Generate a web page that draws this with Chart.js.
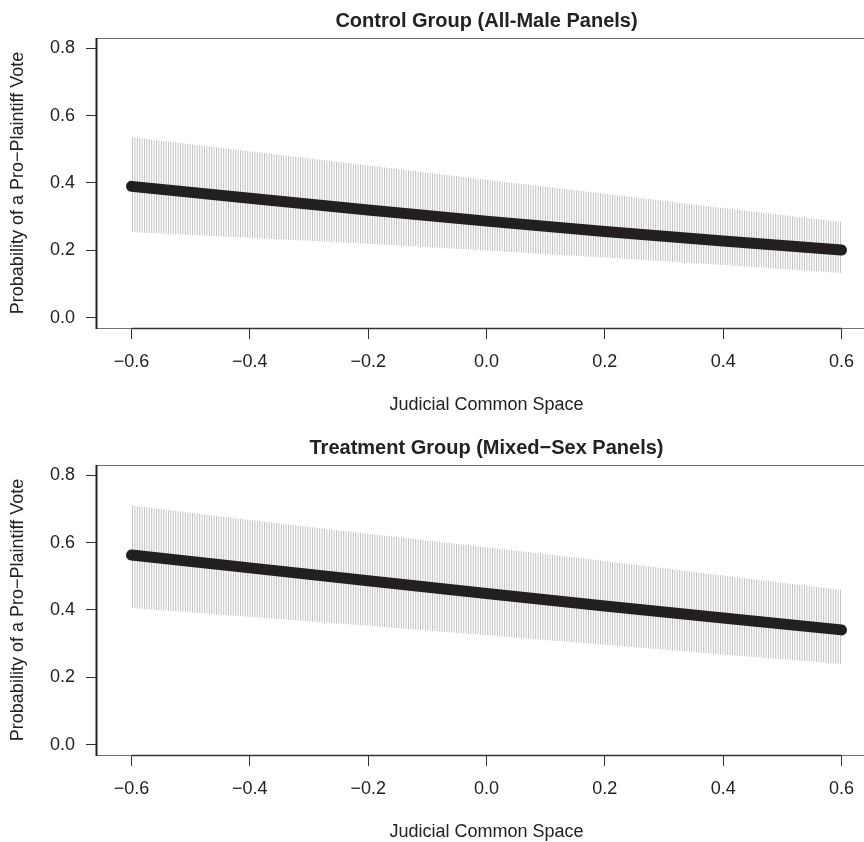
<!DOCTYPE html>
<html>
<head>
<meta charset="utf-8">
<script src="https://cdn.jsdelivr.net/npm/chart.js@4/dist/chart.umd.min.js"></script>
<style>
  html, body { margin: 0; padding: 0; background: #fff; overflow: hidden; }
  .panel { position: absolute; left: 0; width: 880px; height: 427px; }
</style>
</head>
<body>
<div class="panel" style="top:0"><canvas id="controlChart"></canvas></div>
<div class="panel" style="top:427px"><canvas id="treatmentChart"></canvas></div>
<script>
// Tick labels
const xTicks = [-0.6, -0.4, -0.2, 0, 0.2, 0.4, 0.6];
const yTicks = [0, 0.2, 0.4, 0.6, 0.8];

// Judicial common space scores where values were read
const xValues = [-0.6, -0.4, -0.2, 0, 0.2, 0.4, 0.6];

// Control group (all-male panels)
const controlFit   = [0.390, 0.355, 0.320, 0.287, 0.256, 0.228, 0.201];
const controlUpper = [0.536, 0.494, 0.452, 0.410, 0.368, 0.326, 0.284];
const controlLower = [0.255, 0.238, 0.220, 0.200, 0.179, 0.157, 0.133];

// Treatment group (mixed-sex panels)
const treatmentFit   = [0.563, 0.525, 0.487, 0.449, 0.412, 0.376, 0.341];
const treatmentUpper = [0.710, 0.667, 0.626, 0.586, 0.545, 0.502, 0.459];
const treatmentLower = [0.406, 0.380, 0.353, 0.325, 0.297, 0.268, 0.240];

const FONT = '"Liberation Sans", Arial, Helvetica, sans-serif';
const TEXT = '#222';

// vertical hatch used for the confidence band
function makeStripes() {
  const pc = document.createElement('canvas');
  pc.width = 12;
  pc.height = 4;
  const c = pc.getContext('2d');
  c.fillStyle = '#c2c2c2';
  for (let i = 0; i < 5; i++) c.fillRect(i * 2.4, 0, 1, 4);
  return c.createPattern(pc, 'repeat');
}
const stripes = makeStripes();

const toPoints = (ys) => ys.map((y, i) => ({ x: xValues[i], y: y }));

// box around the plot region, R style
const boxPlugin = {
  id: 'box',
  afterDraw(chart) {
    const { ctx, chartArea: a, scales } = chart;
    ctx.save();
    ctx.strokeStyle = '#707070';
    ctx.lineWidth = 1;
    ctx.strokeRect(a.left + 0.5, a.top + 0.5, a.right - a.left, a.bottom - a.top);
    ctx.strokeStyle = '#222';
    ctx.lineWidth = 2;
    ctx.beginPath();
    ctx.moveTo(a.left + 0.5, a.top);
    ctx.lineTo(a.left + 0.5, a.bottom + 1);
    ctx.stroke();
    ctx.strokeStyle = '#333';
    ctx.lineWidth = 1.5;
    ctx.beginPath();
    ctx.moveTo(scales.x.getPixelForValue(xTicks[0]), a.bottom + 0.5);
    ctx.lineTo(scales.x.getPixelForValue(xTicks[xTicks.length - 1]), a.bottom + 0.5);
    ctx.stroke();
    ctx.restore();
  }
};

function makeChart(id, title, fit, upper, lower) {
  return new Chart(document.getElementById(id), {
    type: 'line',
    data: {
      datasets: [
        {
          data: toPoints(fit),
          borderColor: '#231f20',
          borderWidth: 11,
          borderCapStyle: 'round',
          borderJoinStyle: 'round',
          pointRadius: 0,
          fill: false,
          clip: false
        },
        {
          data: toPoints(upper),
          borderWidth: 0,
          borderColor: 'rgba(0,0,0,0)',
          backgroundColor: stripes,
          pointRadius: 0,
          fill: '+1'
        },
        {
          data: toPoints(lower),
          borderWidth: 0,
          borderColor: 'rgba(0,0,0,0)',
          pointRadius: 0,
          fill: false
        }
      ]
    },
    options: {
      responsive: true,
      maintainAspectRatio: false,
      animation: false,
      layout: { padding: { left: 0, right: 3, top: 0, bottom: 0 } },
      plugins: {
        legend: { display: false },
        tooltip: { enabled: false },
        title: {
          display: true,
          text: title,
          fullSize: false,
          color: TEXT,
          font: { family: FONT, size: 20, weight: 'bold' },
          padding: { top: 9, bottom: 5 }
        }
      },
      scales: {
        x: {
          type: 'linear',
          min: -0.66,
          max: 0.66,
          afterBuildTicks: (s) => { s.ticks = xTicks.map(v => ({ value: v })); },
          afterFit: (s) => { s.height = 99; },
          border: { display: false },
          grid: { drawOnChartArea: false, drawTicks: true, tickLength: 11, tickColor: '#333', lineWidth: 1 },
          ticks: {
            color: TEXT,
            padding: 12,
            font: { family: FONT, size: 18 },
            callback: (v) => v.toFixed(1).replace('-', '\u2212')
          },
          title: {
            display: true,
            text: 'Judicial Common Space',
            color: TEXT,
            font: { family: FONT, size: 18 },
            padding: { top: 0, bottom: 11 }
          }
        },
        y: {
          type: 'linear',
          min: -0.03,
          max: 0.83,
          afterBuildTicks: (s) => { s.ticks = yTicks.map(v => ({ value: v })); },
          afterFit: (s) => { s.width = 96; },
          border: { display: false },
          grid: { drawOnChartArea: false, drawTicks: true, tickLength: 10, tickColor: '#333', lineWidth: 1 },
          ticks: {
            color: TEXT,
            padding: 11,
            font: { family: FONT, size: 18 },
            callback: (v) => v.toFixed(1)
          },
          title: {
            display: true,
            text: 'Probability of a Pro\u2212Plaintiff Vote',
            color: TEXT,
            font: { family: FONT, size: 18 },
            padding: { top: 7, bottom: 0 }
          }
        }
      }
    },
    plugins: [boxPlugin]
  });
}

makeChart('controlChart', 'Control Group (All-Male Panels)', controlFit, controlUpper, controlLower);
makeChart('treatmentChart', 'Treatment Group (Mixed\u2212Sex Panels)', treatmentFit, treatmentUpper, treatmentLower);
</script>
</body>
</html>
